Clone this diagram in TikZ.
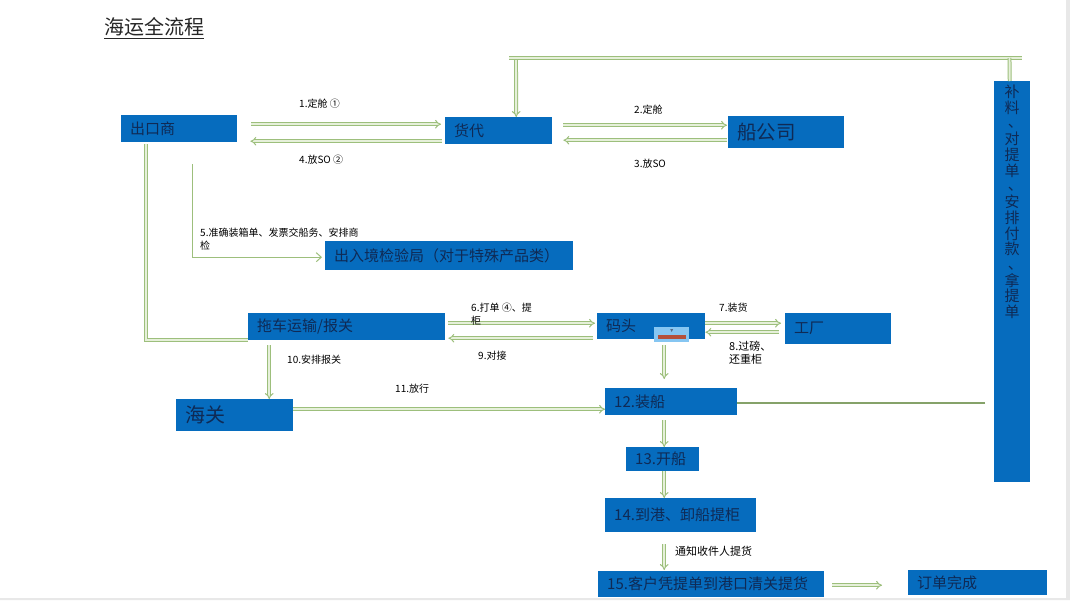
\documentclass[tikz,border=0pt]{standalone}
\usepackage{fontspec}
\setmainfont{Noto Sans CJK SC}
\usetikzlibrary{arrows.meta}
\definecolor{boxblue}{HTML}{066CBE}
\definecolor{boxink}{HTML}{0F2A55}
\definecolor{flowgreen}{HTML}{9DBF7C}
\definecolor{flowcore}{HTML}{E6F0DA}
\definecolor{iconblue}{HTML}{86C6F2}
\definecolor{iconred}{HTML}{B5503A}
\definecolor{pagegrey}{HTML}{E8E8E8}
\newcommand{\dun}{\makebox[1em][c]{\kern.42em\raisebox{.1em}{、}}}
\tikzset{
  flowbox/.style 2 args={draw=none,fill=boxblue,text=boxink,anchor=north west,inner xsep=9pt,inner ysep=0pt,
    minimum width=#1,minimum height=#2,text width=#1-18pt,align=left,font=\fontsize{15}{18}\selectfont},
  flow/.style={draw=flowgreen,line width=1pt,double=flowcore,double distance=1.9pt,-{Implies}},
  flowbar/.style={flow,-},
  thinflow/.style={draw=flowgreen,line width=1pt,-{Straight Barb[length=5pt,width=9pt]}},
  steptext/.style={anchor=west,inner sep=0pt,align=left,text=black,font=\fontsize{10}{13}\selectfont},
}
\begin{document}
\begin{tikzpicture}[x=1pt,y=-1pt]
\useasboundingbox (0,0) rectangle (1070,600);
\fill[white] (0,0) rectangle (1070,600);
\fill[pagegrey] (1066,0) rectangle (1070,600) (0,598) rectangle (1070,600);
\node[anchor=west,inner sep=0pt,text=black!85,font=\fontsize{20}{24}\selectfont] (title) at (104,28) {\underline{海运全流程}};
% boxes
\node[flowbox={116pt}{27pt}] (chukou) at (121,115) {出口商};
\node[flowbox={107pt}{27pt}] (huodai) at (445,117) {货代};
\node[flowbox={116pt}{32pt},font=\fontsize{19.5}{22}\selectfont] (chuangongsi) at (728,116) {船公司};
\node[flowbox={248pt}{29pt}] (jianyan) at (325,241) {出入境检验局（对于特殊产品类）};
\node[flowbox={197pt}{27pt}] (tuoche) at (248,313) {拖车运输/报关};
\node[flowbox={117pt}{32pt},font=\fontsize{20}{24}\selectfont] (haiguan) at (176,399) {海关};
\node[flowbox={108pt}{26pt}] (matou) at (597,313) {码头};
\node[flowbox={106pt}{31pt}] (gongchang) at (785,313) {工厂};
\node[flowbox={132pt}{27pt}] (zhuangchuan) at (605,388) {12.装船};
\node[flowbox={73pt}{24pt}] (kaichuan) at (626,447) {13.开船};
\node[flowbox={151pt}{34pt}] (daogang) at (605,498) {14.到港、卸船提柜};
\node[flowbox={226pt}{26pt}] (tihuo) at (598,571) {15.客户凭提单到港口清关提货};
\node[flowbox={139pt}{25pt}] (wancheng) at (908,570) {订单完成};
\node[flowbox={36pt}{401pt},inner xsep=0pt,text width=36pt,align=center] (buliao) at (994,81)
  {\parbox[c][401pt][t]{36pt}{\centering\baselineskip=15.7pt\vspace*{4pt}补\\料\\\dun\\对\\提\\单\\\dun\\安\\排\\付\\款\\\dun\\拿\\提\\单}};
% small crane icon on the quay box
\node[fill=iconblue,anchor=north west,inner sep=0pt,minimum width=35pt,minimum height=15pt] (kran) at (654,327) {};
\fill[iconred] ([shift={(4,8)}]kran.north west) rectangle ([shift={(-3,-3)}]kran.south east);
\fill[boxink!70] ([shift={(-1.5,2)}]kran.north) -- ([shift={(1.5,2)}]kran.north) -- ([shift={(0,5)}]kran.north) -- cycle;
% top rail
\coordinate (railwest) at (509,58);
\coordinate (raileast) at (1022,58);
\draw[flowbar] (railwest) -- (raileast);
\draw[flow] ([shift={(7,2)}]railwest) -- ([xshift=17.5]huodai.north);
\draw[flowbar] ([xshift=-2.5]buliao.north) -- ([xshift=-12.5]raileast);
% connectors
\draw[flow] ([shift={(14,-4.5)}]chukou.east) -- ([shift={(-4,-6.5)}]huodai.west);
\draw[flow] ([shift={(-3,10.5)}]huodai.west) -- ([shift={(13,12.5)}]chukou.east);
\draw[flow] ([shift={(11,-5.5)}]huodai.east) -- ([shift={(-1,-7)}]chuangongsi.west);
\draw[flow] ([shift={(-1,8)}]chuangongsi.west) -- ([shift={(11,9.5)}]huodai.east);
\draw[flowbar] ([shift={(-33,2)}]chukou.south) |- (tuoche.south west);
\draw[thinflow] ([shift={(13,22)}]chukou.south) |- ([shift={(-3,1.5)}]jianyan.west);
\draw[flow] ([shift={(3,-3.5)}]tuoche.east) -- ([shift={(-2,-3)}]matou.west);
\draw[flow] ([shift={(-4,12)}]matou.west) -- ([shift={(3,11.5)}]tuoche.east);
\draw[flow] ([shift={(0,-3)}]matou.east) -- ([shift={(-4,-5.5)}]gongchang.west);
\draw[flow] ([shift={(-6,3.5)}]gongchang.west) -- ([shift={(0,6)}]matou.east);
\draw[flow] ([shift={(13,6)}]matou.south) -- ([shift={(-7,-9)}]zhuangchuan.north);
\draw[flow] ([shift={(-77.5,5)}]tuoche.south) -- ([xshift=34.5]haiguan.north);
\draw[flow] ([shift={(0,-6)}]haiguan.east) -- ([shift={(0,7.5)}]zhuangchuan.west);
\draw[flow] ([shift={(-7,5)}]zhuangchuan.south) -- ([xshift=1.5]kaichuan.north);
\draw[flow] ([xshift=1.5]kaichuan.south) -- ([xshift=-16.5]daogang.north);
\draw[flow] ([shift={(-16.5,12)}]daogang.south) -- ([shift={(-47,-1)}]tihuo.north);
\draw[flow] ([shift={(8,1)}]tihuo.east) -- ([shift={(-26,2.5)}]wancheng.west);
\draw[draw=flowgreen!85!black,line width=1.6pt] ([shift={(-9,121)}]buliao.west) -- ([shift={(0,1)}]zhuangchuan.east);
% step labels
\node[steptext] (s1) at (299,104) {1.定舱 ①};
\node[steptext] (s4) at (299,160) {4.放SO ②};
\node[steptext] (s2) at (634,110) {2.定舱};
\node[steptext] (s3) at (634,164) {3.放SO};
\node[steptext] (s5) at (200,239.5) {5.准确装箱单、发票交船务、安排商\\检};
\node[steptext] (s6) at (471,314) {6.打单 ④、提\\柜};
\node[steptext] (s7) at (719,308) {7.装货};
\node[steptext,font=\fontsize{11}{12.5}\selectfont] (s8) at (729,353) {8.过磅、\\还重柜};
\node[steptext] (s9) at (478,356) {9.对接};
\node[steptext] (s10) at (287,360) {10.安排报关};
\node[steptext] (s11) at (395,389) {11.放行};
\node[steptext,font=\fontsize{11}{13}\selectfont] (notify) at (675,551) {通知收件人提货};
\end{tikzpicture}
\end{document}
